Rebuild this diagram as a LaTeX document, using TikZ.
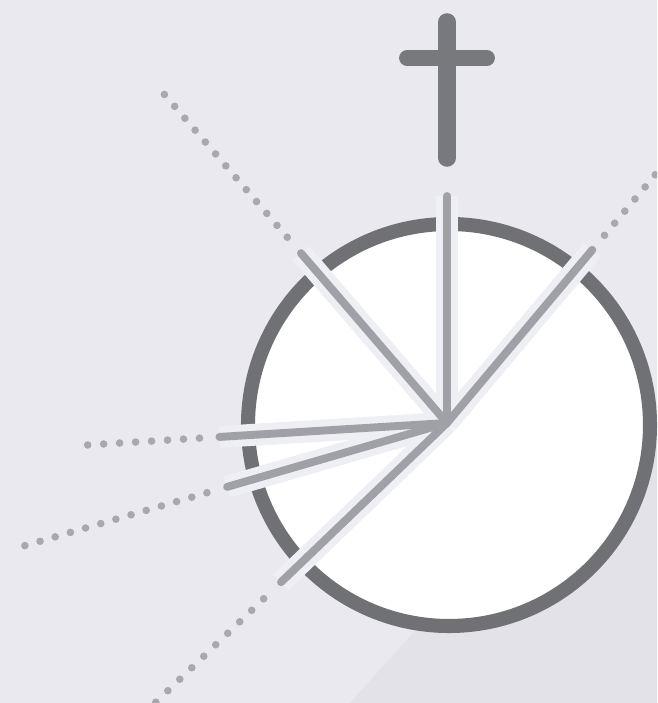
\documentclass[tikz,border=0pt]{standalone}
\usepackage{xcolor}
\usepackage{tikz}
\usetikzlibrary{calc}
\definecolor{pagebg}{RGB}{233,233,239}
\definecolor{pageshade}{RGB}{226,226,232}
\definecolor{ringgray}{RGB}{112,113,116}
\definecolor{raygray}{RGB}{160,161,166}
\definecolor{dotgray}{RGB}{168,169,174}
\definecolor{crossgray}{RGB}{120,121,124}
\definecolor{halo}{RGB}{238,239,245}
\tikzset{
  ring/.style={draw=ringgray, fill=white, line width=8pt},
  rayhalo/.style={draw=halo, line width=12.5pt, line cap=butt},
  ray/.style={draw=raygray, line width=4.5pt, line cap=round},
  raydot/.style={fill=dotgray},
  crossbar/.style={draw=crossgray, line width=10pt, line cap=round}
}

\begin{document}
\begin{tikzpicture}[x=0.02cm, y=0.02cm]
  \useasboundingbox (0,0) rectangle (657,703);
  \clip (0,0) rectangle (657,703);
  \fill[pagebg] (0,0) rectangle (657,703);
  \fill[pageshade] (350,0) -- (413,70) -- (657,283) -- (657,0) -- cycle;

  \coordinate (disc) at (449,278);
  \coordinate (hub) at (447,280);
  \draw[ring] (disc) circle[radius=201];

  \foreach \nm/\ang/\len in {up/90/227, ul/130.7/224, ur/50/226,
      lf/183.5/228, ll/196.2/229, dl/223.8/230}
    \coordinate (tip-\nm) at ($(hub)+(\ang:\len)$);

  \foreach \nm in {up,ul,ur,lf,ll,dl}
    \draw[rayhalo] (hub) -- (tip-\nm);
  \foreach \nm in {up,ul,ur,lf,ll,dl}
    \draw[ray] (hub) -- (tip-\nm);

  % dotted continuations
  \foreach \ang/\first/\pitch/\num in {130.7/245/15.7/13, 50/245/15.8/10,
      183.5/248/16/8, 196.2/250/15.8/13, 223.8/254/16.6/10}
    \foreach \k in {1,...,\num}
      \fill[raydot] ($(hub)+(\ang:{\first+(\k-1)*\pitch})$) circle[radius=3.8];

  \coordinate (crosstop) at (447,681);
  \coordinate (crossfoot) at (447,545);
  \coordinate (armleft) at (407,645);
  \coordinate (armright) at (487,645);
  \draw[crossbar] (crosstop) -- (crossfoot);
  \draw[crossbar, line width=9pt] (armleft) -- (armright);
\end{tikzpicture}
\end{document}
